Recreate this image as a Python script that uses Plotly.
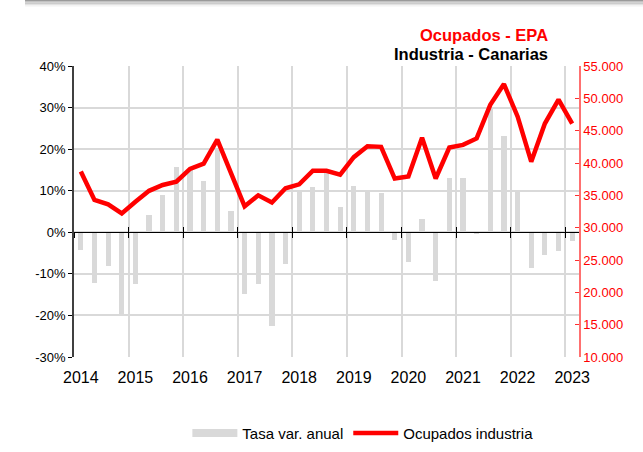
import plotly.graph_objects as go

# ---- data ----
years = list(range(2014, 2024))
quarter_years = [y for y in range(2014, 2023) for _ in range(4)] + [2023]
quarter_nums = [q for _ in range(2014, 2023) for q in range(1, 5)] + [1]

tasa_var_anual = [-4.2, -12.1, -8.0, -20.0, -12.5, 4.2, 9.0, 15.7, 15.0, 12.4,
                  19.8, 5.1, -14.9, -12.5, -22.5, -7.7, 10.2, 10.9, 14.2, 6.2,
                  11.2, 9.8, 9.5, -1.8, -7.1, 3.2, -11.6, 13.1, 13.0, -0.4,
                  30.2, 23.2, 9.9, -8.5, -5.5, -4.5, -2.1]

ocupados_industria = [38700, 34300, 33600, 32200, 34000, 35700, 36600, 37100, 39100, 39900,
                      43600, 38600, 33300, 35000, 33900, 36100, 36700, 38800, 38800, 38200,
                      40900, 42600, 42500, 37600, 37900, 43900, 37600, 42400, 42800, 43800,
                      49000, 52200, 47200, 40200, 46100, 49800, 46100]

left_ticks = [-30, -20, -10, 0, 10, 20, 30, 40]
left_labels = ["-30%", "-20%", "-10%", "0%", "10%", "20%", "30%", "40%"]
year_labels = [str(y) for y in years]

# quarter positions on a continuous time axis
xq = [y + (q - 0.5) / 4 for y, q in zip(quarter_years, quarter_nums)]
label_pos = [y + 0.125 for y in years]

FONT = "Liberation Sans, Arial, sans-serif"
XR = [2014, 2023.25]
BAR_COLOR = "#D9D9D9"

fig = go.Figure()
fig.add_trace(go.Bar(x=xq, y=tasa_var_anual, name="Tasa var. anual",
                     marker=dict(color=BAR_COLOR, line=dict(width=0)),
                     width=0.095, xaxis="x", yaxis="y",
                     legendgroup="bars", showlegend=False))
# legend swatch (wide grey box, like the original) for the bar series
fig.add_trace(go.Scatter(x=[None], y=[None], name="Tasa var. anual", mode="lines",
                         line=dict(color=BAR_COLOR, width=8), legendgroup="bars",
                         hoverinfo="skip", xaxis="x", yaxis="y"))
fig.add_trace(go.Scatter(x=xq, y=ocupados_industria, name="Ocupados industria",
                         mode="lines", line=dict(color="#FF0000", width=4.5),
                         xaxis="x", yaxis="y2"))
# helper (empty) traces so the overlay axes get drawn
fig.add_trace(go.Scatter(x=[], y=[], xaxis="x2", yaxis="y", showlegend=False, hoverinfo="skip"))
fig.add_trace(go.Scatter(x=[], y=[], xaxis="x3", yaxis="y", showlegend=False, hoverinfo="skip"))

zero_pos = 30 / 70

fig.update_layout(
    width=643, height=452,
    margin=dict(l=74, r=64, t=66, b=95, autoexpand=False),
    paper_bgcolor="white", plot_bgcolor="white",
    separators=",.",
    font=dict(family=FONT, size=13, color="black"),
    bargap=0,
    xaxis=dict(range=XR, tickmode="array", tickvals=years, showticklabels=False,
               showgrid=True, gridcolor="#D9D9D9", gridwidth=1.5,
               ticks="outside", ticklen=5, tickcolor="black", tickwidth=1,
               showline=True, linecolor="black", linewidth=1, automargin=False,
               anchor="free", position=zero_pos, zeroline=False),
    xaxis2=dict(range=XR, overlaying="x", tickmode="array", tickvals=years,
                showticklabels=False, showgrid=False, zeroline=False, automargin=False,
                ticks="inside", ticklen=5, tickcolor="black", tickwidth=1,
                anchor="free", position=zero_pos, showline=False),
    xaxis3=dict(range=XR, overlaying="x", tickmode="array", tickvals=label_pos,
                ticktext=year_labels, showgrid=False, zeroline=False, automargin=False,
                ticks="outside", ticklen=6, tickcolor="rgba(0,0,0,0)",
                tickfont=dict(size=16, color="black"),
                anchor="y", side="bottom", showline=False),
    yaxis=dict(range=[-30, 40], tickmode="array", tickvals=left_ticks, ticktext=left_labels,
               showgrid=True, gridcolor="#D9D9D9", gridwidth=1.5, zeroline=False,
               showline=True, linecolor="#404040", linewidth=1.5, automargin=False,
               ticks="outside", ticklen=4, tickcolor="black",
               tickfont=dict(size=13, color="black")),
    yaxis2=dict(range=[10000, 55000], dtick=5000, tickformat=",.0f",
                overlaying="y", side="right", anchor="x", showgrid=False, zeroline=False,
                showline=True, linecolor="#FF7070", linewidth=1.5, automargin=False,
                ticks="inside", ticklen=4, tickcolor="#FF3030",
                tickfont=dict(size=13, color="#FF0000")),
    legend=dict(orientation="h", x=0.572, xanchor="center", y=-0.262, yanchor="middle",
                font=dict(size=15, color="black"), bgcolor="rgba(0,0,0,0)",
                traceorder="normal", itemwidth=45),
    showlegend=True,
)

# titles
fig.add_annotation(text="<b>Ocupados - EPA</b>", xref="paper", yref="paper",
                   x=0.942, y=(357 - 35.5) / 291, xanchor="right", yanchor="middle",
                   showarrow=False, font=dict(size=16.5, color="#FF0000", family=FONT))
fig.add_annotation(text="<b>Industria - Canarias</b>", xref="paper", yref="paper",
                   x=0.942, y=(357 - 54.5) / 291, xanchor="right", yanchor="middle",
                   showarrow=False, font=dict(size=16.5, color="black", family=FONT))

# decorative top shadow band
shades = ["#9a9a9a", "#b4b4b4", "#cccccc", "#e2e2e2", "#f2f2f2"]
for i, c in enumerate(shades):
    y1 = 1.2268 - i * 0.0045
    y0 = y1 - 0.0045
    fig.add_shape(type="rect", xref="paper", yref="paper", x0=-0.097, x1=1.13,
                  y0=y0, y1=y1, fillcolor=c, line=dict(width=0), layer="below")

fig.write_html("out.html", config={"displayModeBar": False},
               post_script="document.body.style.margin='0';document.body.style.overflow='hidden';")
